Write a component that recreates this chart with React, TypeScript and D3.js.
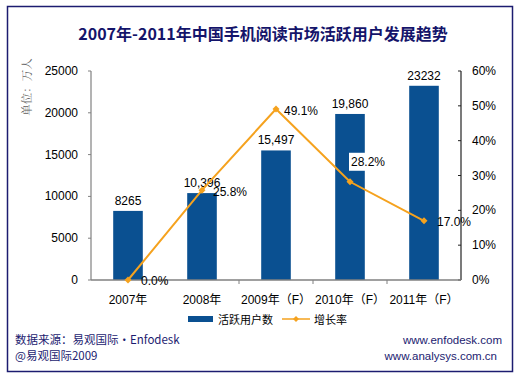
import React from "react";
import * as d3 from "d3";

const categories = ["2007年", "2008年", "2009年（F）", "2010年（F）", "2011年（F）"];
const users = [8265, 10396, 15497, 19860, 23232];
const userLabels = ["8265", "10,396", "15,497", "19,860", "23232"];
const growth = [0.0, 25.8, 49.1, 28.2, 17.0];
const leftTicks = [0, 5000, 10000, 15000, 20000, 25000];
const rightTicks = [0, 10, 20, 30, 40, 50, 60];

const W = 525;
const H = 379;
const left = 91;
const right = 461;
const top = 71;
const bottom = 280;
const font = "Arial, 'Liberation Sans', 'Noto Sans CJK SC', sans-serif";
const cjk = "'Noto Sans CJK SC', Arial, sans-serif";
const barColor = "#0a5091";
const lineColor = "#f5a21e";
const navy = "#1c1c70";

export default function App() {
  const x = d3.scaleBand<string>().domain(categories).range([left, right]).paddingInner(0).paddingOuter(0);
  const y = d3.scaleLinear().domain([0, 25000]).range([bottom, top]);
  const y2 = d3.scaleLinear().domain([0, 60]).range([bottom, top]);
  const bw = x.bandwidth() * 0.4;
  const cx = (c: string) => (x(c) as number) + x.bandwidth() / 2;
  const line = d3
    .line<number>()
    .x((_, i) => cx(categories[i]))
    .y((d) => y2(d));
  const diamond = (px: number, py: number, r = 3.5) =>
    `M${px},${py - r}L${px + r},${py}L${px},${py + r}L${px - r},${py}Z`;

  const pctPos = [
    { dx: 13, dy: 5, bg: false },
    { dx: 11, dy: 6, bg: false },
    { dx: 8, dy: 6, bg: false },
    { dx: 1, dy: -16, bg: true },
    { dx: 13, dy: 5, bg: false },
  ];

  return (
    <svg width={W} height={H} style={{ display: "block", position: "absolute", left: 0, top: 0 }}>
      <rect x={0} y={0} width={W} height={H} fill="#ffffff" />
      <rect x={7.5} y={6.5} width={505} height={365} fill="#ffffff" stroke={navy} strokeWidth={1.5} />
      <text x={263} y={40} textAnchor="middle" fontFamily={cjk} fontWeight="bold" fontSize={16} fill="#14146a">
        2007年-2011年中国手机阅读市场活跃用户发展趋势
      </text>

      <text
        transform="translate(31,87) rotate(-90)"
        textAnchor="middle"
        fontFamily="'Noto Serif CJK SC', 'Noto Sans CJK SC', serif"
        fontSize={11.5}
        fill="#606060"
      >
        单位：万人
      </text>

      {users.map((v, i) => (
        <rect key={i} x={cx(categories[i]) - bw / 2} y={y(v)} width={bw} height={bottom - y(v)} fill={barColor} />
      ))}

      <line x1={left} y1={top} x2={left} y2={bottom} stroke="#808080" strokeWidth={1.2} />
      {leftTicks.map((t) => (
        <g key={t}>
          <line x1={left - 3} x2={left} y1={y(t)} y2={y(t)} stroke="#808080" />
          <text x={78} y={y(t) + 4} textAnchor="end" fontFamily={font} fontSize={12} fill="#000">
            {t}
          </text>
        </g>
      ))}
      <line x1={right} y1={top} x2={right} y2={bottom} stroke="#222" strokeWidth={1.2} />
      {rightTicks.map((t) => (
        <g key={t}>
          <line x1={right - 3} x2={right} y1={y2(t)} y2={y2(t)} stroke="#222" />
          <text x={472} y={y2(t) + 4} textAnchor="start" fontFamily={font} fontSize={12} fill="#000">
            {t}%
          </text>
        </g>
      ))}
      <line x1={left} y1={bottom} x2={right} y2={bottom} stroke="#808080" strokeWidth={1.5} />
      {categories.slice(1).map((c) => (
        <line key={c} x1={x(c) as number} x2={x(c) as number} y1={bottom} y2={bottom + 4} stroke="#808080" />
      ))}
      {categories.map((c) => (
        <text key={c} x={cx(c)} y={304} textAnchor="middle" fontFamily={font} fontSize={12} fill="#000">
          {c}
        </text>
      ))}

      {users.map((v, i) => (
        <text key={i} x={cx(categories[i])} y={y(v) - 6} textAnchor="middle" fontFamily={font} fontSize={12} fill="#000">
          {userLabels[i]}
        </text>
      ))}

      <path d={line(growth) || ""} fill="none" stroke={lineColor} strokeWidth={2} />
      {growth.map((g, i) => (
        <path key={i} d={diamond(cx(categories[i]), y2(g))} fill={lineColor} />
      ))}
      {growth.map((g, i) => {
        const p = pctPos[i];
        const px = cx(categories[i]) + p.dx;
        const py = y2(g) + p.dy;
        const label = g.toFixed(1) + "%";
        return (
          <g key={i}>
            {p.bg && <rect x={px - 2} y={py - 13} width={38} height={18} fill="#fff" />}
            <text x={px} y={py} fontFamily={font} fontSize={12} fill="#000">
              {label}
            </text>
          </g>
        );
      })}

      <rect x={188} y={316} width={25} height={6} fill={barColor} />
      <text x={218} y={324} fontFamily={cjk} fontSize={11} fill="#000">
        活跃用户数
      </text>
      <line x1={282} x2={310} y1={319} y2={319} stroke={lineColor} strokeWidth={1.5} />
      <path d={diamond(296, 319, 3)} fill={lineColor} />
      <text x={314} y={324} fontFamily={cjk} fontSize={11} fill="#000">
        增长率
      </text>

      <text x={15} y={344} fontFamily={cjk} fontSize={11.5} fill={navy}>
        数据来源：易观国际·Enfodesk
      </text>
      <text x={15} y={360} fontFamily={cjk} fontSize={11.5} fill={navy}>
        @易观国际2009
      </text>
      <text x={502} y={344} textAnchor="end" fontFamily={font} fontSize={11.5} fill={navy}>
        www.enfodesk.com
      </text>
      <text x={497} y={360} textAnchor="end" fontFamily={font} fontSize={11.5} fill={navy}>
        www.analysys.com.cn
      </text>
    </svg>
  );
}
